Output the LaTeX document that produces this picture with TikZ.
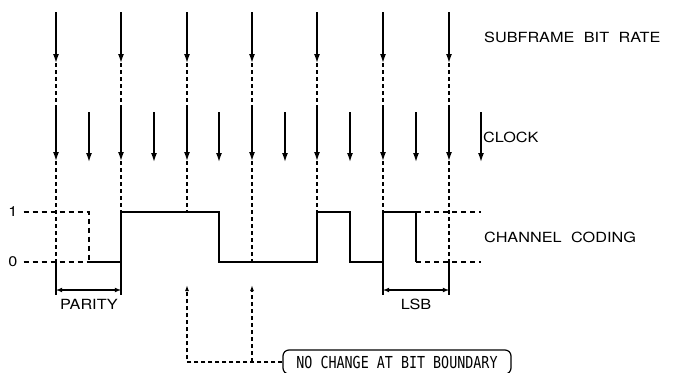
\documentclass[tikz,border=0pt]{standalone}
\usepackage{fontspec}
\setmainfont[FakeStretch=1.16,WordSpace=2.1]{TeX Gyre Heros}
\newfontfamily\boxfont[FakeStretch=0.81]{DejaVu Sans Mono}
\usetikzlibrary{arrows.meta}
\tikzset{
  bitline/.style={line width=1.4pt,-{Latex[length=9pt,width=6pt]}},
  guide/.style={line width=1.2pt,dash pattern=on 4pt off 3pt},
  level/.style={line width=2pt,dash pattern=on 5pt off 4pt},
  signal/.style={line width=2.5pt,line join=miter},
  lbl/.style={font=\fontsize{14}{14}\selectfont,inner sep=0pt},
}
\begin{document}
\begin{tikzpicture}[>=latex,x=1pt,y=-1pt]
\useasboundingbox (0,0) rectangle (674,372);
% bit rate and clock arrows
    \foreach \xp in {56,121,187,252,317,383,449}{
      \draw[bitline] (\xp,12) -- (\xp,63);
      \draw[guide] (\xp,63) -- (\xp,107);
      \draw[bitline] (\xp,107) -- (\xp,161);}
    \foreach \xp in {89,154,219,285,350,416,481}{\draw[bitline] (\xp,112) -- (\xp,162);}
    \foreach \xp in {56,252,449}{\draw[guide] (\xp,161) -- (\xp,262);}
    \foreach \xp in {121,187,317,383}{\draw[guide] (\xp,161) -- (\xp,212);}
    \foreach \xp in {56,121,383,449}{\draw[line width=1.2pt] (\xp,262) -- (\xp,295);}
% levels
    \node[lbl] (one) at (13,212) {1};
    \node[lbl] (zero) at (13,262) {0};
    \draw[level] (one.east) ++(6,0) -- (89,212) -- (89,262);
    \draw[level] (zero.east) ++(6,0) -- (89,262);
    \draw[level] (416,212) -- (481,212);
    \draw[level] (416,262) -- (481,262);
    \draw[signal] (89,262) -- (121,262) -- (121,212) -- (219,212) -- (219,262) -- (317,262)
      -- (317,212) -- (350,212) -- (350,262) -- (383,262) -- (383,212) -- (416,212) -- (416,262);
% widths
    \draw[<->,line width=1.1pt] (56,290) -- (121,290);
    \draw[<->,line width=1.1pt] (383,290) -- (449,290);
    \node[lbl] (parity) at (89,304) {PARITY};
    \node[lbl] (lsb) at (416,304) {LSB};
% texts
    \node[lbl,anchor=west] (rate) at (484,37) {SUBFRAME BIT RATE};
    \node[lbl,anchor=west] (clock) at (483,137) {CLOCK};
    \node[lbl,anchor=west] (coding) at (484,237) {CHANNEL CODING};
    \node[draw,line width=1.2pt,rounded corners=6pt,minimum width=228pt,minimum height=24pt,
      inner sep=0pt,font=\boxfont\fontsize{16.5}{16.5}\selectfont] (nochange) at (397,362)
      {NO CHANGE AT BIT BOUNDARY};
    \coordinate (b3) at (187,285);
    \coordinate (b4) at (252,285);
    \draw[guide,-{Latex[open,length=6pt,width=4pt]}] (nochange.west) -| (b3);
    \draw[guide,-{Latex[open,length=6pt,width=4pt]}] (nochange.west -| b4) -- (b4);
\end{tikzpicture}
\end{document}
